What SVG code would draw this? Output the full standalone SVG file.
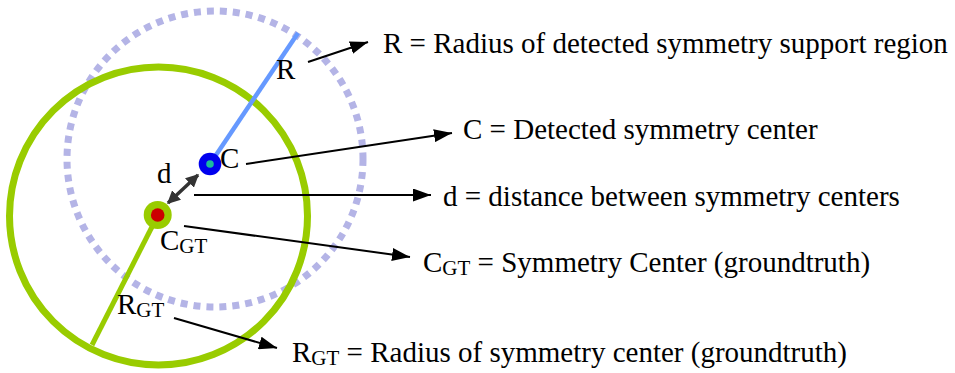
<svg xmlns="http://www.w3.org/2000/svg" width="955" height="373" viewBox="0 0 955 373">
<style>
text{font-family:"Liberation Serif","Times New Roman",serif;font-size:29px;fill:#000}
.sub{font-size:21px}
.conn{stroke:#000;stroke-width:2;fill:none;marker-end:url(#ah)}
</style>
<defs>
<marker id="ah" viewBox="0 0 10 10" refX="10" refY="5" markerWidth="18" markerHeight="13" markerUnits="userSpaceOnUse" orient="auto" preserveAspectRatio="none"><path d="M0,0L10,5L0,10z" fill="#000"/></marker>
<marker id="dh" viewBox="0 0 10 10" refX="9" refY="5" markerWidth="13" markerHeight="13" markerUnits="userSpaceOnUse" orient="auto-start-reverse"><path d="M0,0L10,5L0,10z" fill="#333"/></marker>
</defs>
<rect width="955" height="373" fill="#fff"/>
<g id="support-region">
<circle cx="215" cy="159" r="148" fill="none" stroke="#b4b4e6" stroke-width="7" stroke-dasharray="7 6"/>
</g>
<g id="groundtruth-region">
<circle cx="158.5" cy="216" r="149" fill="none" stroke="#99cc00" stroke-width="7"/>
<line x1="158" y1="215" x2="92" y2="345" stroke="#99cc00" stroke-width="5"/>
</g>
<g id="radius-R">
<line x1="210" y1="164" x2="298" y2="33" stroke="#6699ff" stroke-width="4.5"/>
<text x="276" y="79">R</text>
</g>
<g id="center-C">
<circle cx="210" cy="164" r="11.3" fill="#0000ee"/>
<circle cx="210" cy="164" r="3.8" fill="#1abc9c"/>
<text x="220" y="168">C</text>
</g>
<g id="center-CGT">
<circle cx="157.7" cy="215" r="14" fill="#99cc00"/>
<circle cx="157.7" cy="215" r="6.8" fill="#cc0000"/>
<text x="160" y="250">C<tspan class="sub" dy="3">GT</tspan></text>
</g>
<g id="distance-d">
<line x1="198" y1="175" x2="168" y2="203" stroke="#333" stroke-width="3.5" marker-start="url(#dh)" marker-end="url(#dh)"/>
<text x="157" y="183">d</text>
</g>
<g id="label-RGT">
<text x="117" y="314">R<tspan class="sub" dy="3">GT</tspan></text>
</g>
<g id="connectors">
<line class="conn" x1="308" y1="62" x2="368" y2="42"/>
<line class="conn" x1="246" y1="164" x2="452" y2="133"/>
<line class="conn" x1="194" y1="195" x2="431" y2="195"/>
<line class="conn" x1="184" y1="226" x2="410" y2="257"/>
<line class="conn" x1="174" y1="318" x2="277" y2="348"/>
</g>
<g id="legend">
<text x="383" y="53">R = Radius of detected symmetry support region</text>
<text x="463" y="139">C = Detected symmetry center</text>
<text x="443" y="206">d = distance between symmetry centers</text>
<text x="423" y="272">C<tspan class="sub" dy="3">GT</tspan><tspan dy="-3"> = Symmetry Center (groundtruth)</tspan></text>
<text x="292" y="362">R<tspan class="sub" dy="3">GT</tspan><tspan dy="-3"> = Radius of symmetry center (groundtruth)</tspan></text>
</g>
</svg>
